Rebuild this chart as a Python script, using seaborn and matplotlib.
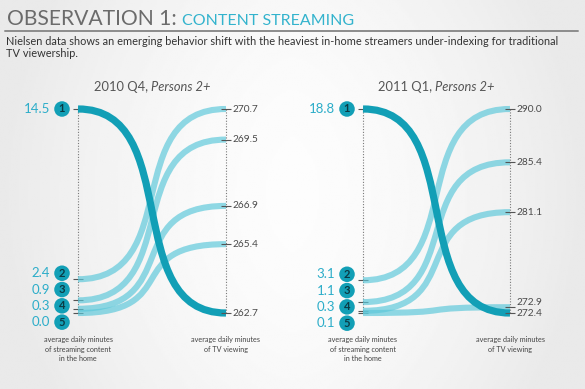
import numpy as np
import pandas as pd
import seaborn as sns
import matplotlib.pyplot as plt
from matplotlib.path import Path
from matplotlib.patches import PathPatch

# --- data ---
ranks = [1, 2, 3, 4, 5]
periods = ["2010 Q4, ", "2011 Q1, "]
streaming_2010q4 = [14.5, 2.4, 0.9, 0.3, 0.0]
tv_2010q4 = [262.7, 270.7, 269.5, 266.9, 265.4]
streaming_2011q1 = [18.8, 3.1, 1.1, 0.3, 0.1]
tv_2011q1 = [272.4, 290.0, 285.4, 281.1, 272.9]

subtitle = ["Nielsen data shows an emerging behavior shift with the heaviest in-home streamers "
            "under-indexing for traditional", "TV viewership."]
left_caption = "average daily minutes\nof streaming content\nin the home"
right_caption = "average daily minutes\nof TV viewing"

DARK = "#129fb6"
LIGHT = "#5cc8da"
TEAL_TXT = "#2cadc9"
GREY_TXT = "#4a4a4a"

sns.set_theme(style="white")
plt.rcParams["font.family"] = ["Lato", "DejaVu Sans"]

W, H = 585, 389
fig = plt.figure(figsize=(W / 100, H / 100), dpi=100)

# soft background shading
bg = fig.add_axes([0, 0, 1, 1], zorder=-5)
gx = np.linspace(-1, 1, 300)
gy = np.linspace(-1, 1, 200)
GX, GY = np.meshgrid(gx, gy)
shade = 0.99 - 0.075 * np.clip(np.abs(GX) ** 1.6 + 0.25 * GY ** 2, 0, 1)
bg.imshow(shade, cmap="gray", vmin=0, vmax=1, aspect="auto", extent=[0, 1, 0, 1])
bg.set_axis_off()

# header
fig.text(7 / W, 1 - 25 / H, "OBSERVATION 1:", fontsize=15.2, color="#6b6b6b",
         va="baseline", ha="left")
fig.text(182 / W, 1 - 25 / H, "CONTENT STREAMING", fontsize=11.5, color="#33b3cd",
         va="baseline", ha="left")
fig.add_artist(plt.Line2D([5 / W, 578 / W], [1 - 31 / H, 1 - 31 / H], color="#8c8c8c", lw=1.4))
fig.text(6 / W, 1 - 45 / H, subtitle[0], fontsize=7.9, color="#333333", va="baseline", ha="left")
fig.text(6 / W, 1 - 57 / H, subtitle[1], fontsize=7.9, color="#333333", va="baseline", ha="left")


def draw_panel(px_left, px_right, period, streaming, tv):
    top, bottom = 109, 313
    ax = fig.add_axes([px_left / W, (H - bottom) / H, (px_right - px_left) / W, (bottom - top) / H])
    ax.set_xlim(0, 1)
    ax.set_ylim(min(streaming), max(streaming))
    tw = ax.twinx()
    tw.set_ylim(min(tv), max(tv))
    ax.set_axis_off()
    tw.set_axis_off()

    # dotted guide axes
    ax.plot([0, 0], [min(streaming), max(streaming)], ls=(0, (1, 1.5)), color="#7a7a7a",
            lw=0.8, zorder=1, clip_on=False)
    tw.plot([1, 1], [min(tv), max(tv)], ls=(0, (1, 1.5)), color="#7a7a7a",
            lw=0.8, zorder=1, clip_on=False)

    # ticks at every value
    ticks_l = pd.DataFrame({"x": 0.0, "y": streaming})
    ticks_r = pd.DataFrame({"x": 1.0, "y": tv})
    sns.scatterplot(data=ticks_l, x="x", y="y", ax=ax, marker="_", s=45, color="#555555",
                    linewidth=0.8, legend=False, zorder=2, clip_on=False)
    sns.scatterplot(data=ticks_r, x="x", y="y", ax=tw, marker="_", s=45, color="#555555",
                    linewidth=0.8, legend=False, zorder=2, clip_on=False)

    # curved links: right end mapped through the twin scale into ax data
    to_ax = ax.transData.inverted()
    k = 0.72
    for r, s, t in zip(ranks, streaming, tv):
        y1 = to_ax.transform(tw.transData.transform((1, t)))[1]
        verts = [(0, s), (k, s), (1 - k, y1), (1, y1)]
        path = Path(verts, [Path.MOVETO, Path.CURVE4, Path.CURVE4, Path.CURVE4])
        if r == 1:
            patch = PathPatch(path, fc="none", ec=DARK, lw=5.2, zorder=4, capstyle="butt", clip_on=False)
        else:
            patch = PathPatch(path, fc="none", ec=LIGHT, lw=4.4, alpha=0.68, zorder=3,
                              capstyle="butt", clip_on=False)
        ax.add_patch(patch)

    # rank badges and streaming values (stacked below for ranks 2-5)
    lo, hi = min(streaming), max(streaming)
    span_px = bottom - top
    y_top_px = bottom - (streaming[1] - lo) / (hi - lo) * span_px - 6
    badge_y = [hi] + [lo + (bottom - (y_top_px + 16.3 * i)) / span_px * (hi - lo) for i in range(4)]
    cx = -16 / (px_right - px_left)
    badges = pd.DataFrame({"x": cx, "y": badge_y, "rank": ranks})
    sns.scatterplot(data=badges, x="x", y="y", ax=ax, s=125, color=DARK, edgecolor="none",
                    legend=False, zorder=5, clip_on=False)
    tx = -28 / (px_right - px_left)
    for r, s, by in zip(ranks, streaming, badge_y):
        ax.text(cx, by, str(r), ha="center", va="center", fontsize=8, fontweight="bold",
                color="#0b3a44", zorder=6)
        ax.text(tx, by, f"{s:.1f}", ha="right", va="center", fontsize=9.5, color=TEAL_TXT, zorder=6)

    # TV values on the right, nudged apart when they collide
    disp = [tw.transData.transform((1, t))[1] for t in tv]
    order = np.argsort(disp)
    placed = {}
    prev = None
    for i in order:
        y = disp[i]
        if prev is not None and y - prev < 11:
            y = prev + 11
        placed[i] = y
        prev = y
    for i, t in enumerate(tv):
        dy = (placed[i] - disp[i]) * 72 / 100
        tw.annotate(f"{t:.1f}", xy=(1, t), xytext=(4.5, dy), textcoords="offset points",
                    ha="left", va="center", fontsize=7.3, color=GREY_TXT, annotation_clip=False)

    # captions
    trans = ax.get_xaxis_transform()
    ax.text(0, -0.115, left_caption, transform=trans, ha="center", va="top", fontsize=5.2,
            color="#444444", linespacing=1.35)
    ax.text(1, -0.115, right_caption, transform=trans, ha="center", va="top", fontsize=5.2,
            color="#444444", linespacing=1.35)

    # panel title: upright period + italic audience, centred together
    renderer = fig.canvas.get_renderer()
    t1 = ax.text(0, 1.108, period, transform=ax.transAxes, ha="left", va="center",
                 fontsize=9.3, color="#555555")
    t2 = ax.text(0, 1.108, "Persons 2+", transform=ax.transAxes, ha="left", va="center",
                 fontsize=9.3, color="#555555", style="italic")
    w1 = t1.get_window_extent(renderer).width
    w2 = t2.get_window_extent(renderer).width
    axw = ax.get_window_extent(renderer).width
    start = 0.5 - (w1 + w2) / 2 / axw
    t1.set_x(start)
    t2.set_x(start + w1 / axw)
    return ax


draw_panel(78, 226, periods[0], streaming_2010q4, tv_2010q4)
draw_panel(363, 510, periods[1], streaming_2011q1, tv_2011q1)

fig.savefig("out.png", dpi=100)
